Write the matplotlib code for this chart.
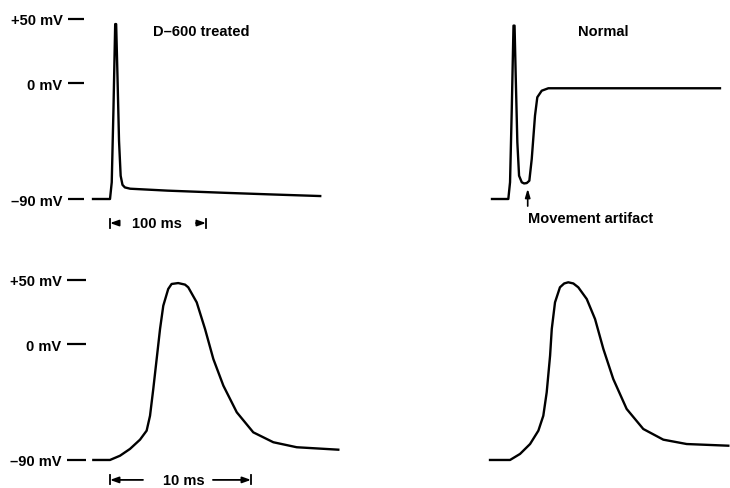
import matplotlib
matplotlib.use("Agg")
import matplotlib.pyplot as plt

plt.rcParams['font.family'] = ['Liberation Sans', 'DejaVu Sans']

# D-600 treated, slow sweep (ms, mV)
t_d600_slow = [-17.7, 0, 1.8, 3.6, 5.4, 6.4, 7.8, 9.4, 11.1, 13.0, 15.5, 21, 60, 120, 170, 219]
v_d600_slow = [-90, -90, -77, -20, 46, 46, 5, -45, -72, -79, -81, -82, -83.5, -85.2, -86.5, -87.7]

# Normal, slow sweep (ms, mV) - includes movement artifact
t_norm_slow = [-16.7, 0.3, 2.1, 3.9, 5.7, 6.8, 8.0, 9.7, 11.5, 14.3, 16.7, 19.5, 22.2,
               24.7, 28.1, 30.5, 35.1, 42.0, 59.4, 220.8]
v_norm_slow = [-90, -90, -77.0, -20.0, 44.8, 44.8, 5.9, -45.9, -71.9, -77.0, -77.9, -77.6,
               -75.8, -58.9, -25.2, -10.9, -5.8, -3.9, -3.9, -3.9]

# D-600 treated, fast sweep (ms, mV)
t_d600_fast = [-1.18, 0, 0.71, 1.42, 2.13, 2.60, 2.84, 3.07, 3.31, 3.55, 3.78, 4.13, 4.37,
               4.84, 5.32, 5.55, 6.15, 6.74, 7.33, 8.04, 8.99, 10.16, 11.58, 13.24, 16.19]
v_d600_fast = [-90, -90, -86.7, -81.4, -74.2, -67.2, -55.6, -34.8, -11.5, 11.9, 30.0, 43.0,
               46.9, 47.6, 46.4, 44.3, 32.6, 11.9, -11.5, -32.2, -52.9, -68.5, -76.2, -80.1,
               -82.0]

# Normal, fast sweep (ms, mV)
t_norm_fast = [-1.56, -0.14, 0.57, 1.28, 1.87, 2.22, 2.46, 2.70, 2.82, 3.05, 3.40, 3.70,
               3.99, 4.35, 4.70, 5.30, 5.89, 6.48, 7.18, 8.13, 9.31, 10.73, 12.39, 15.34]
v_norm_fast = [-90, -90, -85.3, -77.6, -67.2, -55.6, -37.4, -8.9, 11.9, 32.6, 44.3, 47.3,
               48.2, 47.3, 44.3, 35.2, 19.6, -3.7, -27.0, -50.3, -65.9, -74.2, -77.6, -78.9]

tick_vals = [50, 0, -90]
tick_labels = ["+50 mV", "0 mV", "\u201390 mV"]

W, H = 730, 489
fig = plt.figure(figsize=(W / 100, H / 100), dpi=100)
fs = 10.5
fw = 'bold'


def add_panel(left, right, top, bottom, xlim, ylim):
    ax = fig.add_axes([left / W, 1 - bottom / H, (right - left) / W, (bottom - top) / H])
    ax.set_xlim(*xlim)
    ax.set_ylim(*ylim)
    for s in ax.spines.values():
        s.set_visible(False)
    ax.set_xticks([])
    ax.set_yticks([])
    ax.patch.set_alpha(0)
    return ax


def mv_ticks(ax, length):
    ax.set_yticks(tick_vals)
    ax.set_yticklabels(tick_labels, fontweight=fw)
    ax.tick_params(axis='y', length=length, width=1.6, pad=4, labelsize=fs)


def scale_bar(ax, t0, t1, y, in0, in1, label, xlab):
    for a, b in [(t0, in0), (t1, in1)]:
        ax.annotate('', xy=(a, y), xytext=(b, y), annotation_clip=False,
                    arrowprops=dict(arrowstyle='-|>,head_length=0.5,head_width=0.18',
                                    color='black', lw=1.3, shrinkA=0, shrinkB=0))
        ax.plot([a, a], [y - 3.5, y + 3.5], color='black', lw=1.3, clip_on=False)
    ax.text(xlab, y, label, ha='center', va='center', fontsize=fs, fontweight=fw)


lw = 1.7

# top left: D-600 treated, slow
ax1 = add_panel(84, 330, 0, 240, (-27.1, 229.2), (-121.1, 65.5))
ax1.plot(t_d600_slow, v_d600_slow, color='black', lw=lw, solid_joinstyle='round')
mv_ticks(ax1, 11.5)
ax1.text(95, 40.6, "D\u2013600 treated", ha='center', va='center', fontsize=fs, fontweight=fw)
scale_bar(ax1, 0, 100, -108.7, 7.3, 89.6, "100 ms", 49)

# top right: Normal, slow
ax2 = add_panel(480, 730, 0, 240, (-29.2, 231.25), (-121.1, 65.5))
ax2.plot(t_norm_slow, v_norm_slow, color='black', lw=lw, solid_joinstyle='round')
ax2.text(99, 40.6, "Normal", ha='center', va='center', fontsize=fs, fontweight=fw)
ax2.annotate('', xy=(20.5, -82.0), xytext=(20.5, -95.5), annotation_clip=False,
             arrowprops=dict(arrowstyle='-|>,head_length=0.5,head_width=0.15',
                             color='black', lw=1.2, shrinkA=0, shrinkB=0))
ax2.text(20.8, -105, "Movement artifact", ha='left', va='center', fontsize=fs, fontweight=fw)

# bottom left: D-600 treated, fast
ax3 = add_panel(86, 340, 250, 489, (-1.70, 16.31), (-111.8, 74.1))
ax3.plot(t_d600_fast, v_d600_fast, color='black', lw=lw, solid_joinstyle='round')
mv_ticks(ax3, 13.7)
scale_bar(ax3, 0, 10, -105.5, 2.34, 7.3, "10 ms", 5.2)

# bottom right: Normal, fast
ax4 = add_panel(480, 730, 250, 489, (-2.27, 15.46), (-111.8, 74.1))
ax4.plot(t_norm_fast, v_norm_fast, color='black', lw=lw, solid_joinstyle='round')

fig.savefig("out.png", dpi=100)
